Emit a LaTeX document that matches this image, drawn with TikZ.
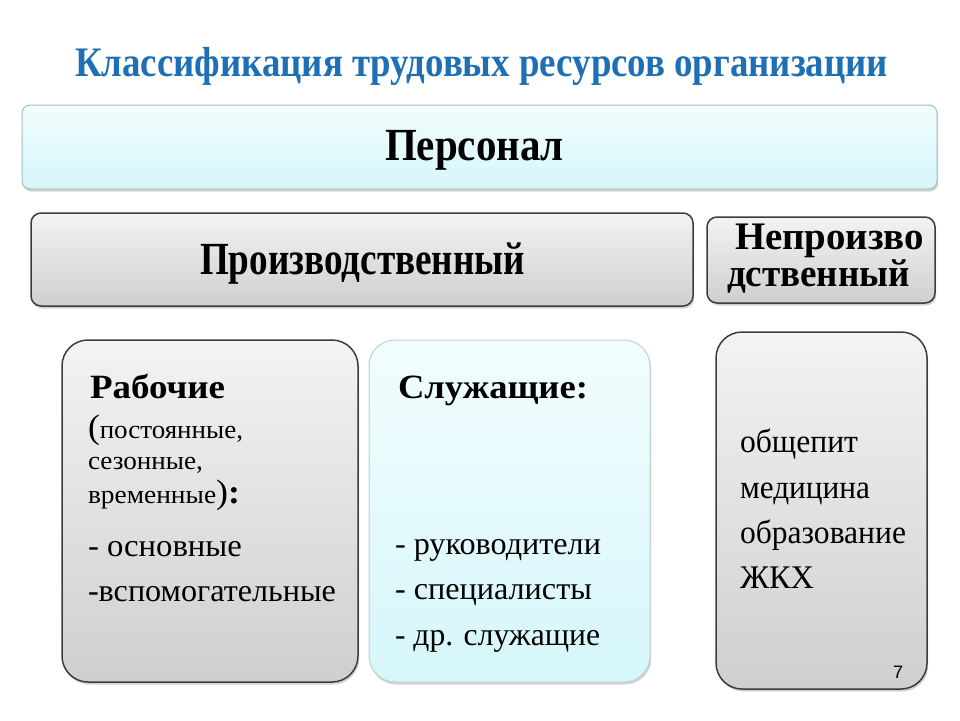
\documentclass[tikz,border=0pt]{standalone}
\usepackage{fontspec}
\setmainfont{Liberation Serif}
\newfontfamily\numfont{Liberation Sans}
\usetikzlibrary{shadows}
\newcommand\fitw[2]{\resizebox{#1}{\height}{#2}}
\newcommand\fs[1]{\fontsize{#1}{#1}\selectfont}
\definecolor{titleblue}{RGB}{30,111,181}
\definecolor{cyantop}{RGB}{242,253,254}
\definecolor{cyanbot}{RGB}{214,246,250}
\definecolor{lightedge}{RGB}{165,188,190}
\definecolor{lightedgeb}{RGB}{190,210,212}
\definecolor{graytop}{RGB}{243,243,243}
\definecolor{graybot}{RGB}{207,207,207}
\definecolor{darkedge}{RGB}{60,60,60}
\begin{document}
\begin{tikzpicture}[x=1pt,y=-1pt,
  basebox/.style={inner sep=0pt,outer sep=0pt,
    drop shadow={opacity=0.35,shadow xshift=1.2pt,shadow yshift=-2.5pt}},
  cyanbox/.style={basebox,draw=lightedge,line width=1pt,top color=cyantop,bottom color=cyanbot},
  graybox/.style={basebox,draw=darkedge,line width=1.5pt,top color=graytop,bottom color=graybot},
  txt/.style={inner sep=0pt,outer sep=0pt,anchor=base west,text=black}
]
\useasboundingbox (0,0) rectangle (960,720);
\fill[white] (0,0) rectangle (960,720);

% boxes
\node[cyanbox,rounded corners=8pt,minimum width=915pt,minimum height=84pt] (pers) at (479.5,147) {};
\node[graybox,rounded corners=10pt,minimum width=662pt,minimum height=93pt] (proiz) at (362,259.5) {};
\node[graybox,rounded corners=10pt,minimum width=228pt,minimum height=86pt] (neproiz) at (821,260) {};
\node[graybox,rounded corners=26pt,minimum width=296pt,minimum height=342pt] (rab) at (210,511) {};
\node[cyanbox,draw=lightedgeb,rounded corners=26pt,minimum width=281pt,minimum height=342pt] (sluz) at (509.5,511) {};
\node[graybox,rounded corners=26pt,minimum width=211pt,minimum height=357pt] (nepr) at (821.5,510.5) {};

% title
\node[txt,text=titleblue] (title) at (75,76) {\fitw{813pt}{\fs{42}\bfseries Классификация трудовых ресурсов организации}};

% headings
\node[txt] (perst) at (385,160) {\fitw{179pt}{\fs{46}\bfseries Персонал}};
\node[txt] (proizt) at (200,274) {\fitw{325pt}{\fs{46}\bfseries Производственный}};
\node[txt] (nep1) at (735,249) {\fitw{189pt}{\fs{39}\bfseries Непроизво}};
\node[txt] (nep2) at (727,286) {\fitw{183pt}{\fs{39}\bfseries дственный}};

% workers
\node[txt] (rab1) at (90,398) {\fitw{135pt}{\fs{34}\bfseries Рабочие}};
\node[txt] (rab2) at (88,438) {\fitw{155pt}{{\fs{34}(}{\fs{26}постоянные,}}};
\node[txt] (rab3) at (88,469) {\fitw{115pt}{\fs{26}сезонные,}};
\node[txt] (rab4) at (88,503) {\fitw{152pt}{{\fs{26}временные}{\fs{34})\textbf{:}}}};
\node[txt] (rab5) at (88,556) {\fitw{154pt}{\fs{32}- основные}};
\node[txt] (rab6) at (88,601) {\fitw{248pt}{\fs{32}-вспомогательные}};

% employees
\node[txt] (sl1) at (398,398) {\fitw{190pt}{\fs{34}\bfseries Служащие:}};
\node[txt] (sl2) at (395,554) {\fitw{206pt}{\fs{32}- руководители}};
\node[txt] (sl3) at (395,599) {\fitw{197pt}{\fs{32}- специалисты}};
\node[txt] (sl4) at (395,645) {\fitw{205pt}{\fs{32}- др. служащие}};

% non-production
\node[txt] (np1) at (740,452) {\fitw{118pt}{\fs{33}общепит}};
\node[txt] (np2) at (740,498) {\fitw{130pt}{\fs{33}медицина}};
\node[txt] (np3) at (740,543) {\fitw{166pt}{\fs{33}образование}};
\node[txt] (np4) at (740,588) {\fitw{74pt}{\fs{33}ЖКХ}};

\node[inner sep=0pt] (num) at (898,672) {\numfont\fs{18}7};
\end{tikzpicture}
\end{document}
